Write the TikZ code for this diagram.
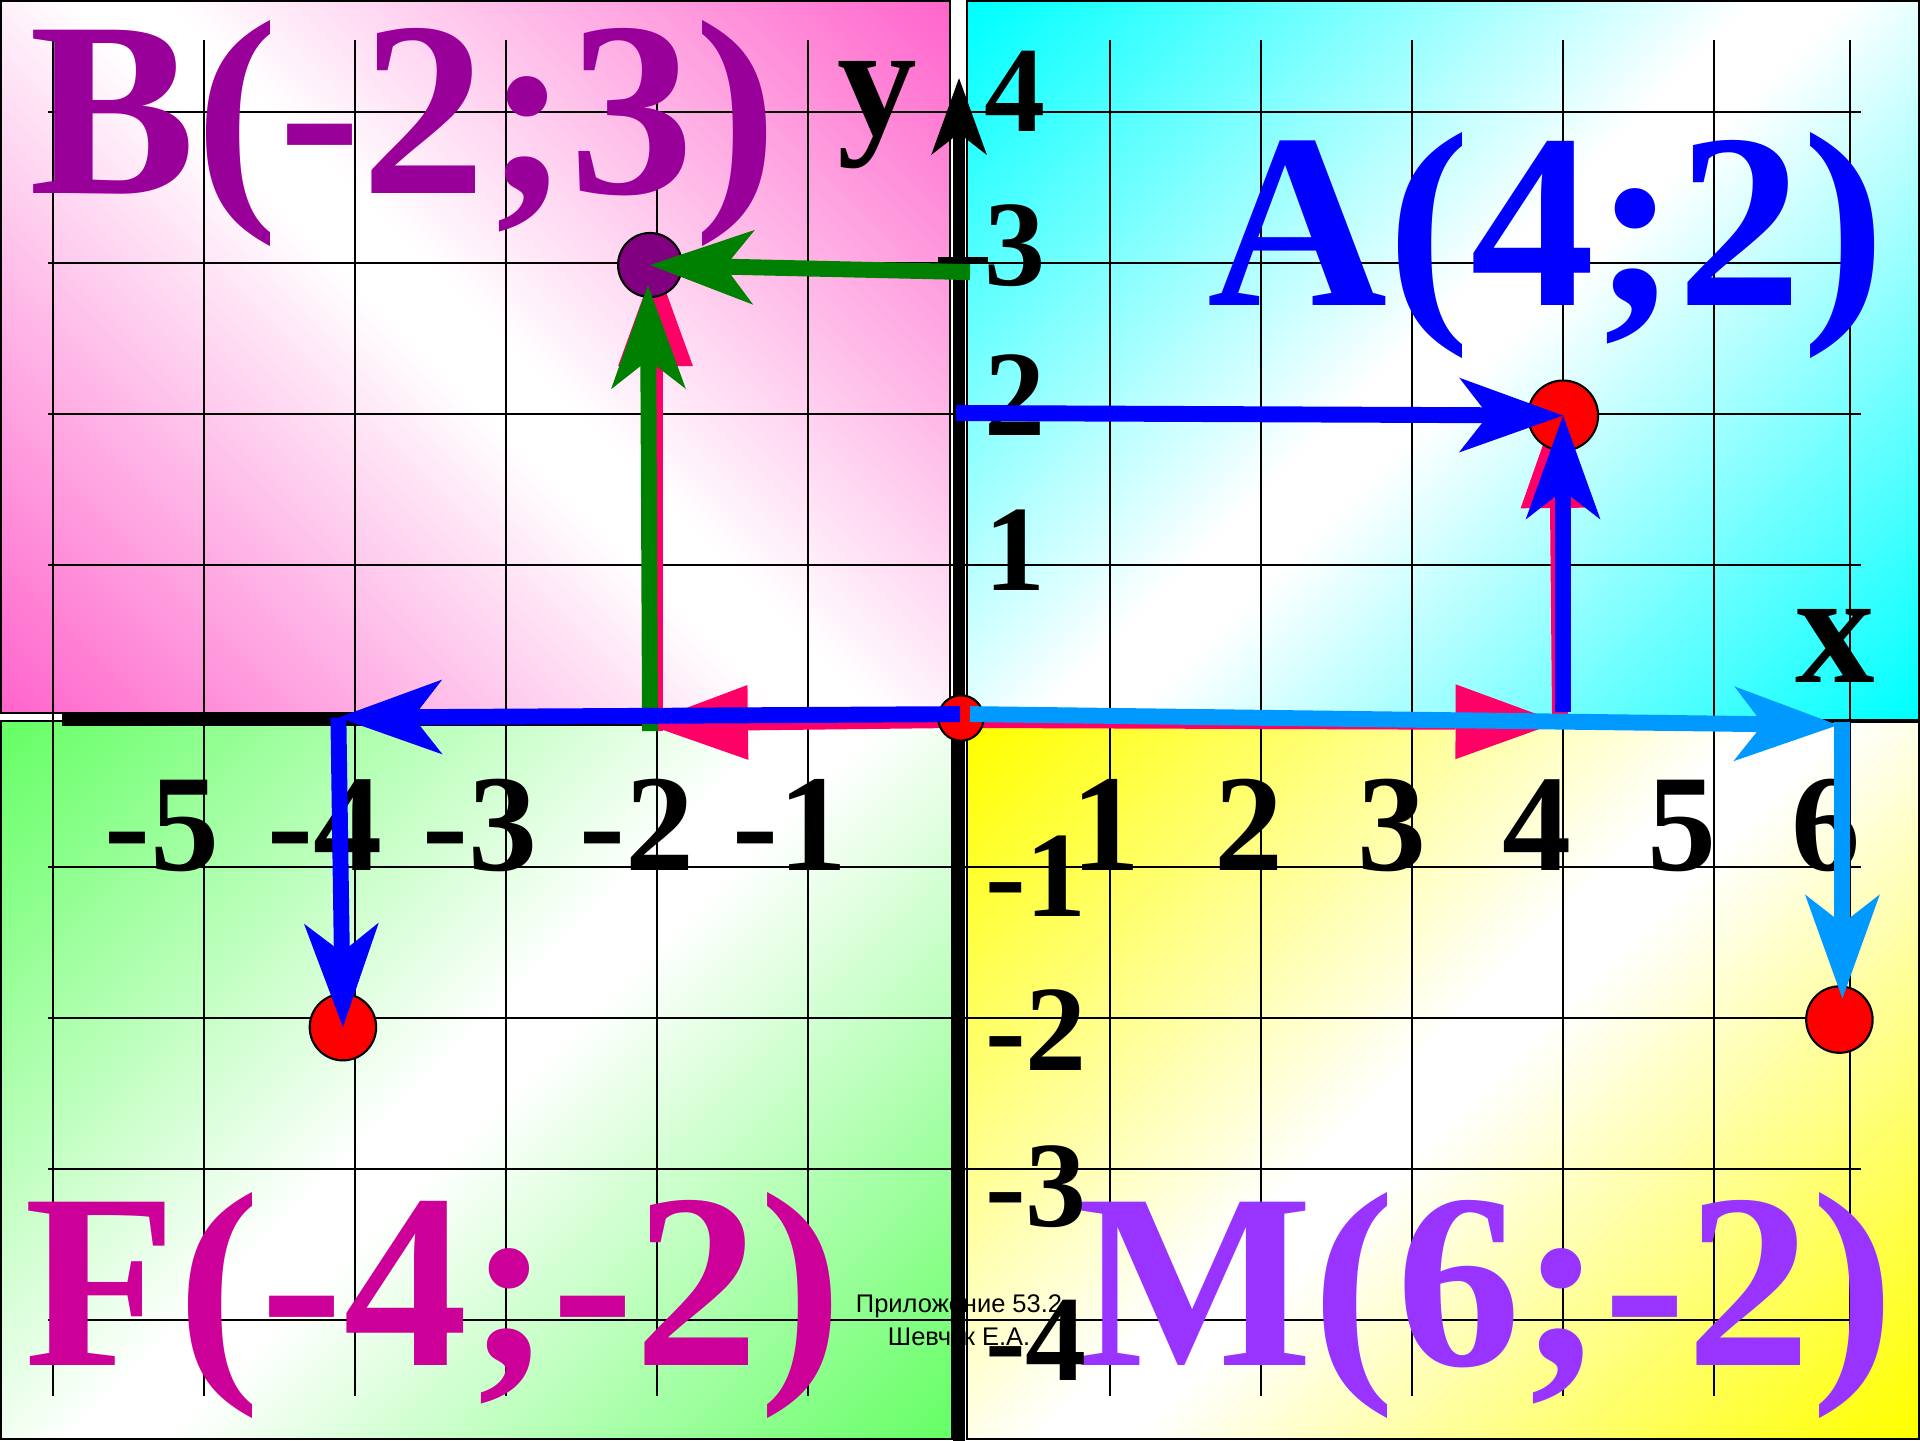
\documentclass[tikz,border=0pt]{standalone}
\usepackage{fontspec}
\setmainfont{Liberation Serif}
\newfontfamily\notefont{Liberation Sans}
\usepackage{xcolor}
\usepackage{tikz}
\usetikzlibrary{arrows.meta,calc}
\definecolor{qpink}{HTML}{FF66CC}
\definecolor{qcyan}{HTML}{00FFFF}
\definecolor{qgreen}{HTML}{66FF66}
\definecolor{qyellow}{HTML}{FFFF00}
\definecolor{labB}{HTML}{990099}
\definecolor{labA}{HTML}{0000FF}
\definecolor{labF}{HTML}{CC0099}
\definecolor{labM}{HTML}{9933FF}
\definecolor{dotB}{HTML}{800080}
\definecolor{arrblue}{HTML}{0000FF}
\definecolor{arrgreen}{HTML}{008000}
\definecolor{arrsky}{HTML}{0099FF}
\definecolor{arrpink}{HTML}{FF0066}
\pgfdeclareverticalshading{shpink}{100bp}{color(0bp)=(qpink); color(15bp)=(qpink); color(48bp)=(white); color(52bp)=(white); color(85bp)=(qpink); color(100bp)=(qpink)}
\pgfdeclareverticalshading{shcyan}{100bp}{color(0bp)=(qcyan); color(15bp)=(qcyan); color(48bp)=(white); color(52bp)=(white); color(85bp)=(qcyan); color(100bp)=(qcyan)}
\pgfdeclareverticalshading{shgreen}{100bp}{color(0bp)=(qgreen); color(15bp)=(qgreen); color(48bp)=(white); color(52bp)=(white); color(85bp)=(qgreen); color(100bp)=(qgreen)}
\pgfdeclareverticalshading{shyellow}{100bp}{color(0bp)=(qyellow); color(15bp)=(qyellow); color(48bp)=(white); color(52bp)=(white); color(85bp)=(qyellow); color(100bp)=(qyellow)}
\tikzset{
  coordquad/.style  = {shading=#1, draw=black, line width=0.4pt},
  coordgrid/.style  = {draw=black, line width=0.4pt},
  coordaxis/.style  = {draw=black, line width=2.4pt},
  coordflow/.style  = {line width=3pt,
                       -{Stealth[length=19.6pt, width=14.1pt, inset=5.5pt, line width=0pt]}},
  coordpath/.style  = {draw=arrpink, line width=3pt,
                       -{Triangle[length=19.4pt, width=14.1pt, line width=0pt]}},
  coordpt/.style    = {circle, draw=black, line width=0.4pt, fill=red, inner sep=0pt},
  coordbig/.style   = {font=\fontsize{47}{47}\selectfont\bfseries, anchor=base, inner sep=0pt},
  coordtickx/.style = {font=\fontsize{26}{26}\selectfont\bfseries, anchor=base, inner sep=0pt},
  coordticky/.style = {font=\fontsize{23}{23}\selectfont\bfseries, anchor=base, inner sep=0pt},
  coordname/.style  = {font=\fontsize{30}{30}\selectfont\bfseries, anchor=base, inner sep=0pt},
  coordnote/.style  = {font=\notefont\fontsize{4.8}{6.2}\selectfont, align=center,
                       anchor=base, inner sep=0pt},
}
\begin{document}
\begin{tikzpicture}
  \useasboundingbox (-6.351,-4.795) rectangle (6.364,4.742);
  \fill[white] (-6.351,-4.795) rectangle (6.364,4.742);

  \shade[coordquad=shpink, shading angle=-45] (-6.345,0.02) rectangle (-0.06,4.736);
  \shade[coordquad=shcyan, shading angle=45] (0.053,-0.026) rectangle (6.358,4.736);
  \shade[coordquad=shgreen, shading angle=45] (-6.345,-4.789) rectangle (-0.046,-0.03);
  \shade[coordquad=shyellow, shading angle=45] (0.053,-4.789) rectangle (6.358,-0.04);

  \foreach \gx in {-6,-5,-4,-3,-2,-1,1,2,3,4,5,5.9}
    \draw[coordgrid] (\gx,-4.5) -- (\gx,4.48);
  \foreach \gy in {-4,-3,-2,-1,1,2,3,4}
    \draw[coordgrid] (-6.03,\gy) -- (5.97,\gy);

  \node[coordnote] (note) at (0,-4.166) {Приложение 53.2\\Шевчук Е.А.};

  \coordinate (ybot) at (0,-4.8);
  \coordinate (ytop) at (0,4.225);
  \coordinate (xleft) at (-5.94,-0.026);
  \coordinate (xorig) at (0,-0.026);
  \draw[coordaxis] (xleft) -- (xorig);
  \draw[coordaxis, -{Stealth[length=14.5pt, width=10.5pt, inset=4.1pt, line width=0pt]}] (ybot) -- (ytop);
  \draw[line width=0.95pt] (-0.139,3.026) -- (0.192,3.026);

  \node[coordbig, text=labB] (labB) at (-3.68,3.46) {B(-2;3)};
  \node[coordbig, text=labA] (labA) at (3.89,2.72) {A(4;2)};
  \node[coordbig, text=labF] (labF) at (-3.48,-4.30) {F(-4;-2)};
  \node[coordbig, text=labM] (labM) at (3.49,-4.30) {M(6;-2)};

  \foreach \px/\lx [count=\k] in {-5.28/-5,-4.2/-4,-3.17/-3,-2.13/-2,-1.12/-1,0.97/1,1.92/2,2.87/3,3.83/4,4.79/5,5.74/6}
    \node[coordtickx] (tx\k) at (\px,-1.02) {\lx};
  \foreach \lv/\lb [count=\k] in {4/3.87,3/2.85,2/1.86,1/0.83}
    \node[coordticky] (typ\k) at (0.37,\lb) {\lv};
  \foreach \lv/\lb [count=\k] in {-1/-1.33,-2/-2.35,-3/-3.38,-4/-4.40}
    \node[coordticky] (tyn\k) at (0.51,\lb) {\lv};
  \node[coordname] (ylab) at (-0.54,3.85) {y};
  \node[coordname] (xlab) at (5.80,0.22) {x};

  \coordinate (pO) at (0,-0.026);
  \coordinate (pAx) at (3.97,-0.04);
  \coordinate (pAy) at (3.98,-0.03);
  \coordinate (pAt) at (3.96,2.06);
  \coordinate (pBx) at (-2.08,-0.05);
  \coordinate (pBy) at (-2.01,-0.1);
  \coordinate (pBt) at (-2.01,3.0);
  \draw[coordpath] (pO) -- (pAx);
  \draw[coordpath] (pAy) -- (pAt);
  \draw[coordpath] (pO) -- (pBx);
  \draw[coordpath] (pBy) -- (pBt);

  \node[coordpt, minimum size=0.464cm] (A) at (4.0,1.99) {};
  \node[coordpt, fill=dotB, minimum size=0.424cm] (B) at (-2.046,2.987) {};
  \node[coordpt, minimum size=0.44cm] (F) at (-4.08,-2.06) {};
  \node[coordpt, minimum size=0.44cm] (M) at (5.83,-2.01) {};
  \node[coordpt, minimum size=0.30cm] (O) at (0.013,-0.013) {};

  \coordinate (yA) at (-0.02,2.007);
  \coordinate (xA) at (4.0,0.026);
  \coordinate (oF) at (0.007,0.013);
  \coordinate (xF) at (-4.11,-0.01);
  \coordinate (xB) at (-2.046,-0.1);
  \coordinate (tB) at (-2.06,2.854);
  \coordinate (yB) at (0.073,2.94);
  \coordinate (oM) at (0.073,0.013);
  \coordinate (xM) at (5.82,-0.06);
  \coordinate (xM2) at (5.85,-0.04);
  \coordinate (tM) at (5.85,-1.87);

  \draw[coordflow, draw=arrgreen] (xB) -- (tB);
  \draw[coordflow, draw=arrgreen] (yB) -- (B.center);
  \draw[coordflow, draw=arrblue] (xA) -- (A.center);
  \draw[coordflow, draw=arrblue] (yA) -- (A.center);
  \draw[coordflow, draw=arrblue] (oF) -- (xF);
  \draw[coordflow, draw=arrblue] (xF) -- (F.center);
  \draw[coordflow, draw=arrsky] (oM) -- (xM);
  \draw[coordflow, draw=arrsky] (xM2) -- (tM);
\end{tikzpicture}
\end{document}
